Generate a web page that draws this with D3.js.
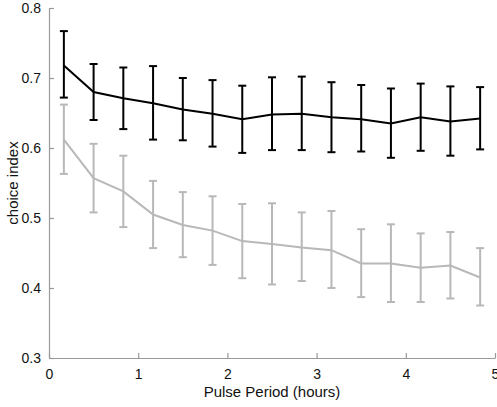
<!DOCTYPE html>
<html><head><meta charset="utf-8">
<script src="https://cdn.jsdelivr.net/npm/d3@7/dist/d3.min.js"></script>
<style>body{margin:0;background:#fff}svg{display:block}</style>
</head><body>
<svg id="c" width="497" height="407"></svg>
<script>
const periods = [0.1667,0.5,0.8333,1.1667,1.5,1.8333,2.1667,2.5,2.8333,3.1667,3.5,3.8333,4.1667,4.5,4.8333];
const blackMean = [0.718,0.680,0.671,0.664,0.655,0.649,0.641,0.648,0.649,0.644,0.641,0.635,0.644,0.638,0.642];
const blackHi   = [0.767,0.720,0.715,0.717,0.700,0.697,0.689,0.701,0.702,0.694,0.690,0.685,0.692,0.688,0.687];
const blackLo   = [0.672,0.640,0.627,0.612,0.611,0.602,0.593,0.597,0.597,0.594,0.595,0.586,0.596,0.589,0.598];
const grayMean  = [0.612,0.557,0.538,0.505,0.490,0.482,0.467,0.463,0.458,0.454,0.435,0.435,0.429,0.432,0.415];
const grayHi    = [0.662,0.606,0.589,0.553,0.537,0.531,0.520,0.521,0.508,0.510,0.484,0.491,0.478,0.480,0.457];
const grayLo    = [0.563,0.508,0.487,0.457,0.444,0.433,0.414,0.405,0.410,0.400,0.387,0.380,0.380,0.385,0.375];
const xTicks = [0,1,2,3,4,5];
const yTicks = [0.3,0.4,0.5,0.6,0.7,0.8];

const svg = d3.select("#c");
const L=49, R=495, T=8, B=358;
const x = d3.scaleLinear().domain([0,5]).range([L,R]);
const y = d3.scaleLinear().domain([0.3,0.8]).range([B,T]);
const axisColor = "#999";
const font = "Liberation Sans, Arial, sans-serif";

const xa = svg.append("g").attr("transform",`translate(0,${B})`)
  .call(d3.axisBottom(x).tickValues(xTicks).tickFormat(d3.format("d")).tickSizeInner(-5).tickSizeOuter(0).tickPadding(11));
const ya = svg.append("g").attr("transform",`translate(${L},0)`)
  .call(d3.axisLeft(y).tickValues(yTicks).tickFormat(d3.format(".1f")).tickSizeInner(-5).tickSizeOuter(0).tickPadding(8));
[xa,ya].forEach(g=>{
  g.select(".domain").attr("stroke",axisColor).attr("stroke-width",1.2);
  g.selectAll(".tick line").attr("stroke",axisColor).attr("stroke-width",1.2);
  g.selectAll("text").attr("fill","#111").style("font-family",font).style("font-size","14px");
});

function series(mean,hi,lo,color){
  const g = svg.append("g");
  const cap = 4;
  periods.forEach((p,i)=>{
    const px = x(p);
    g.append("line").attr("x1",px).attr("x2",px).attr("y1",y(hi[i])).attr("y2",y(lo[i]))
      .attr("stroke",color).attr("stroke-width",2);
    [hi[i],lo[i]].forEach(v=>g.append("line").attr("x1",px-cap).attr("x2",px+cap).attr("y1",y(v)).attr("y2",y(v))
      .attr("stroke",color).attr("stroke-width",2));
  });
  g.append("path").datum(mean)
    .attr("d",d3.line().x((d,i)=>x(periods[i])).y(d=>y(d)))
    .attr("fill","none").attr("stroke",color).attr("stroke-width",2);
}
series(grayMean,grayHi,grayLo,"#b8b8b8");
series(blackMean,blackHi,blackLo,"#000");

svg.append("text").attr("x",(L+R)/2).attr("y",397).attr("text-anchor","middle")
  .style("font-family",font).style("font-size","15px").attr("fill","#111").text("Pulse Period (hours)");
svg.append("text").attr("transform",`translate(18,${(T+B)/2}) rotate(-90)`).attr("text-anchor","middle")
  .style("font-family",font).style("font-size","15px").attr("fill","#111").text("choice index");
</script>
</body></html>
